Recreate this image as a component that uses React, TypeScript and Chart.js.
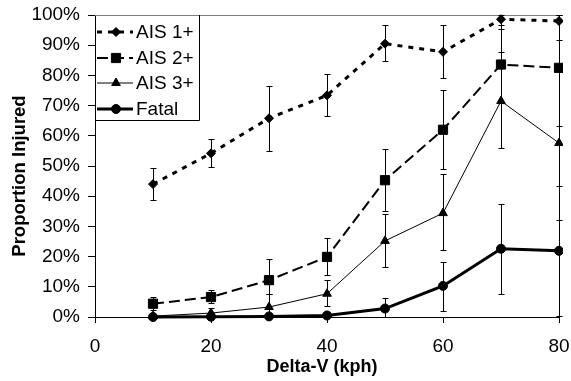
import React, { useEffect, useRef } from 'react';
import { Chart, registerables } from 'chart.js';

Chart.register(...registerables);

// ---- data ----
const deltaV = [10, 20, 30, 40, 50, 60, 70, 80];
const seriesNames = ['AIS 1+', 'AIS 2+', 'AIS 3+', 'Fatal'];

const ais1Values = [44.0, 54.2, 65.8, 73.4, 90.5, 87.8, 98.6, 98.0];
const ais1Lower = [38.6, 49.6, 54.9, 66.5, 84.7, 79.1, 95.2, 91.6];
const ais1Upper = [49.3, 58.8, 76.4, 80.3, 96.6, 96.6, 100, 100];

const ais2Values = [4.4, 6.6, 12.2, 19.9, 45.3, 62.0, 83.6, 82.5];
const ais2Lower = [2.2, 4.6, 7.7, 13.8, 35.0, 49.1, 71.0, 63.2];
const ais2Upper = [6.6, 9.1, 19.3, 26.0, 55.5, 75.1, 96.6, 100];

const ais3Values = [0.3, 1.3, 3.3, 7.7, 25.2, 34.4, 71.5, 57.6];
const ais3Lower = [0, 0, 1.0, 3.6, 16.4, 22.1, 56.0, 32.0];
const ais3Upper = [0.8, 3.0, 7.5, 12.2, 34.0, 47.3, 87.8, 100];

const fatalValues = [0, 0.1, 0.2, 0.5, 2.8, 10.3, 22.6, 21.9];
const fatalLower = [0, 0, 0, 0, 0, 2.0, 7.5, 0.3];
const fatalUpper = [0.3, 0.5, 1.0, 1.5, 6.3, 18.2, 37.5, 43.4];

// next point beyond the visible axis (only a stub of the line shows)
const overflowX = 90;
const ais3Overflow = 100;
const fatalOverflow = 65;

const xTickValues = [0, 20, 40, 60, 80];
const yTickStep = 10;

const FONT = "'Liberation Sans', Arial, sans-serif";

type Marker = 'diamond' | 'square' | 'triangle' | 'circle';

const seriesStyles = [
  { marker: 'diamond' as Marker, width: 3, dash: [5, 6], radius: 4.5, style: 'rectRot' },
  { marker: 'square' as Marker, width: 2, dash: [11, 5], radius: 6.5, style: 'rect' },
  { marker: 'triangle' as Marker, width: 1, dash: [] as number[], radius: 5, style: 'triangle' },
  { marker: 'circle' as Marker, width: 3, dash: [] as number[], radius: 4.5, style: 'circle' },
];

const errorLows = [ais1Lower, ais2Lower, ais3Lower, fatalLower];
const errorHighs = [ais1Upper, ais2Upper, ais3Upper, fatalUpper];

function drawMarker(ctx: CanvasRenderingContext2D, m: Marker, x: number, y: number, r: number) {
  ctx.beginPath();
  if (m === 'diamond') {
    ctx.moveTo(x, y - r); ctx.lineTo(x + r, y); ctx.lineTo(x, y + r); ctx.lineTo(x - r, y);
    ctx.closePath();
  } else if (m === 'square') {
    const s = r * Math.SQRT1_2;
    ctx.rect(x - s, y - s, 2 * s, 2 * s);
  } else if (m === 'triangle') {
    ctx.moveTo(x, y - r);
    ctx.lineTo(x + r * Math.sin(2 * Math.PI / 3), y - r * Math.cos(2 * Math.PI / 3));
    ctx.lineTo(x + r * Math.sin(4 * Math.PI / 3), y - r * Math.cos(4 * Math.PI / 3));
    ctx.closePath();
  } else {
    ctx.arc(x, y, r, 0, Math.PI * 2);
  }
  ctx.fill();
  ctx.stroke();
}

const zeroPad = (s: any) => {
  s.paddingLeft = 0;
  s.paddingRight = 0;
  s.paddingTop = 0;
  s.paddingBottom = 0;
};

const decorPlugin = {
  id: 'decor',
  beforeDatasetsDraw(chart: any) {
    const { ctx, chartArea: a, scales } = chart;
    ctx.save();
    // plot frame (top and right)
    ctx.strokeStyle = '#808080';
    ctx.lineWidth = 1;
    ctx.beginPath();
    ctx.moveTo(a.left, a.top + 0.5);
    ctx.lineTo(Math.round(a.right) + 0.5, a.top + 0.5);
    ctx.lineTo(Math.round(a.right) + 0.5, a.bottom);
    ctx.stroke();
    // error bars
    ctx.strokeStyle = '#000';
    ctx.lineWidth = 1;
    const cap = 3;
    errorLows.forEach((lows, si) => {
      const highs = errorHighs[si];
      deltaV.forEach((xv, i) => {
        const px = Math.round(scales.x.getPixelForValue(xv)) + 0.5;
        const y1 = Math.round(scales.y.getPixelForValue(lows[i])) + 0.5;
        const y2 = Math.round(scales.y.getPixelForValue(highs[i])) + 0.5;
        ctx.beginPath();
        ctx.moveTo(px, y1); ctx.lineTo(px, y2);
        ctx.moveTo(px - cap, y1); ctx.lineTo(px + cap, y1);
        ctx.moveTo(px - cap, y2); ctx.lineTo(px + cap, y2);
        ctx.stroke();
      });
    });
    ctx.restore();
  },
  afterDraw(chart: any) {
    const { ctx, chartArea: a } = chart;
    ctx.save();
    // legend box
    const lx = a.left, ly = a.top, lw = 104, lh = 105;
    ctx.fillStyle = '#fff';
    ctx.fillRect(lx + 1, ly + 1, lw - 1, lh - 1);
    ctx.strokeStyle = '#000';
    ctx.lineWidth = 1;
    ctx.beginPath();
    ctx.moveTo(lx + lw + 0.5, ly);
    ctx.lineTo(lx + lw + 0.5, ly + lh + 0.5);
    ctx.lineTo(lx, ly + lh + 0.5);
    ctx.stroke();
    seriesNames.forEach((name, i) => {
      const st = seriesStyles[i];
      const cy = Math.round(ly + 17 + i * 25.5);
      ctx.strokeStyle = '#000';
      ctx.lineWidth = st.width;
      ctx.setLineDash(st.dash);
      ctx.beginPath();
      ctx.moveTo(lx + 2, cy);
      ctx.lineTo(lx + 38, cy);
      ctx.stroke();
      ctx.setLineDash([]);
      ctx.lineWidth = 1;
      ctx.fillStyle = '#000';
      drawMarker(ctx, st.marker, lx + 21, cy, st.radius);
      ctx.fillStyle = '#000';
      ctx.font = `19px ${FONT}`;
      ctx.textAlign = 'left';
      ctx.textBaseline = 'middle';
      ctx.fillText(name, lx + 41, cy + 1);
    });
    // axis titles
    ctx.fillStyle = '#000';
    ctx.font = `bold 18px ${FONT}`;
    ctx.textAlign = 'center';
    ctx.textBaseline = 'middle';
    ctx.fillText('Delta-V (kph)', (a.left + a.right) / 2 - 5, a.bottom + 50);
    ctx.save();
    ctx.translate(20, a.top + 161);
    ctx.rotate(-Math.PI / 2);
    ctx.font = `bold 18.5px ${FONT}`;
    ctx.fillText('Proportion Injured', 0, 0);
    ctx.restore();
    ctx.restore();
  },
};

export default function App() {
  const ref = useRef<HTMLCanvasElement | null>(null);

  useEffect(() => {
    if (!ref.current) return;
    const valueSets = [ais1Values, ais2Values, ais3Values, fatalValues];
    const overflow: (number | null)[] = [null, null, ais3Overflow, fatalOverflow];
    const datasets = valueSets.map((vals, si) => {
      const st = seriesStyles[si];
      const pts = deltaV.map((x, i) => ({ x, y: vals[i] }));
      const radii = pts.map(() => st.radius);
      if (overflow[si] !== null) {
        pts.push({ x: overflowX, y: overflow[si] as number });
        radii.push(0);
      }
      return {
        label: seriesNames[si],
        data: pts,
        borderColor: '#000',
        backgroundColor: '#000',
        borderWidth: st.width,
        borderDash: st.dash,
        borderCapStyle: 'butt',
        pointStyle: st.style,
        pointRadius: radii,
        pointBackgroundColor: '#000',
        pointBorderColor: '#000',
        pointBorderWidth: 1,
        tension: 0,
        fill: false,
        clip: { left: 0, top: 8, right: 4, bottom: 8 },
      };
    });

    const tickFont = { family: FONT, size: 19 };
    const chart = new Chart(ref.current, {
      type: 'line',
      data: { datasets: datasets as any },
      plugins: [decorPlugin],
      options: {
        responsive: false,
        animation: false,
        devicePixelRatio: 1,
        layout: { padding: { top: 15, right: 12, left: 0, bottom: 0 } },
        plugins: { legend: { display: false }, tooltip: { enabled: false } },
        scales: {
          x: {
            type: 'linear',
            min: 0,
            max: 80,
            afterBuildTicks: (s: any) => { s.ticks = xTickValues.map((v) => ({ value: v })); },
            ticks: { color: '#000', font: tickFont, padding: 12, maxRotation: 0, autoSkip: false },
            grid: { drawOnChartArea: false, drawTicks: true, tickLength: 6, color: '#000' },
            border: { color: '#000', width: 1 },
            afterFit: (s: any) => { s.height = 64; zeroPad(s); },
          },
          y: {
            min: 0,
            max: 100,
            ticks: {
              stepSize: yTickStep,
              color: '#000',
              font: tickFont,
              padding: 8,
              callback: (v: any) => `${v}%`,
            },
            grid: { drawOnChartArea: false, drawTicks: true, tickLength: 7, color: '#000' },
            border: { color: '#000', width: 1 },
            afterFit: (s: any) => { s.width = 95; zeroPad(s); },
          },
        },
      } as any,
    });
    return () => chart.destroy();
  }, []);

  return (
    <div style={{ position: 'absolute', left: 0, top: 0, width: 571, height: 381, background: '#fff' }}>
      <canvas ref={ref} width={571} height={381} style={{ display: 'block' }} />
    </div>
  );
}
